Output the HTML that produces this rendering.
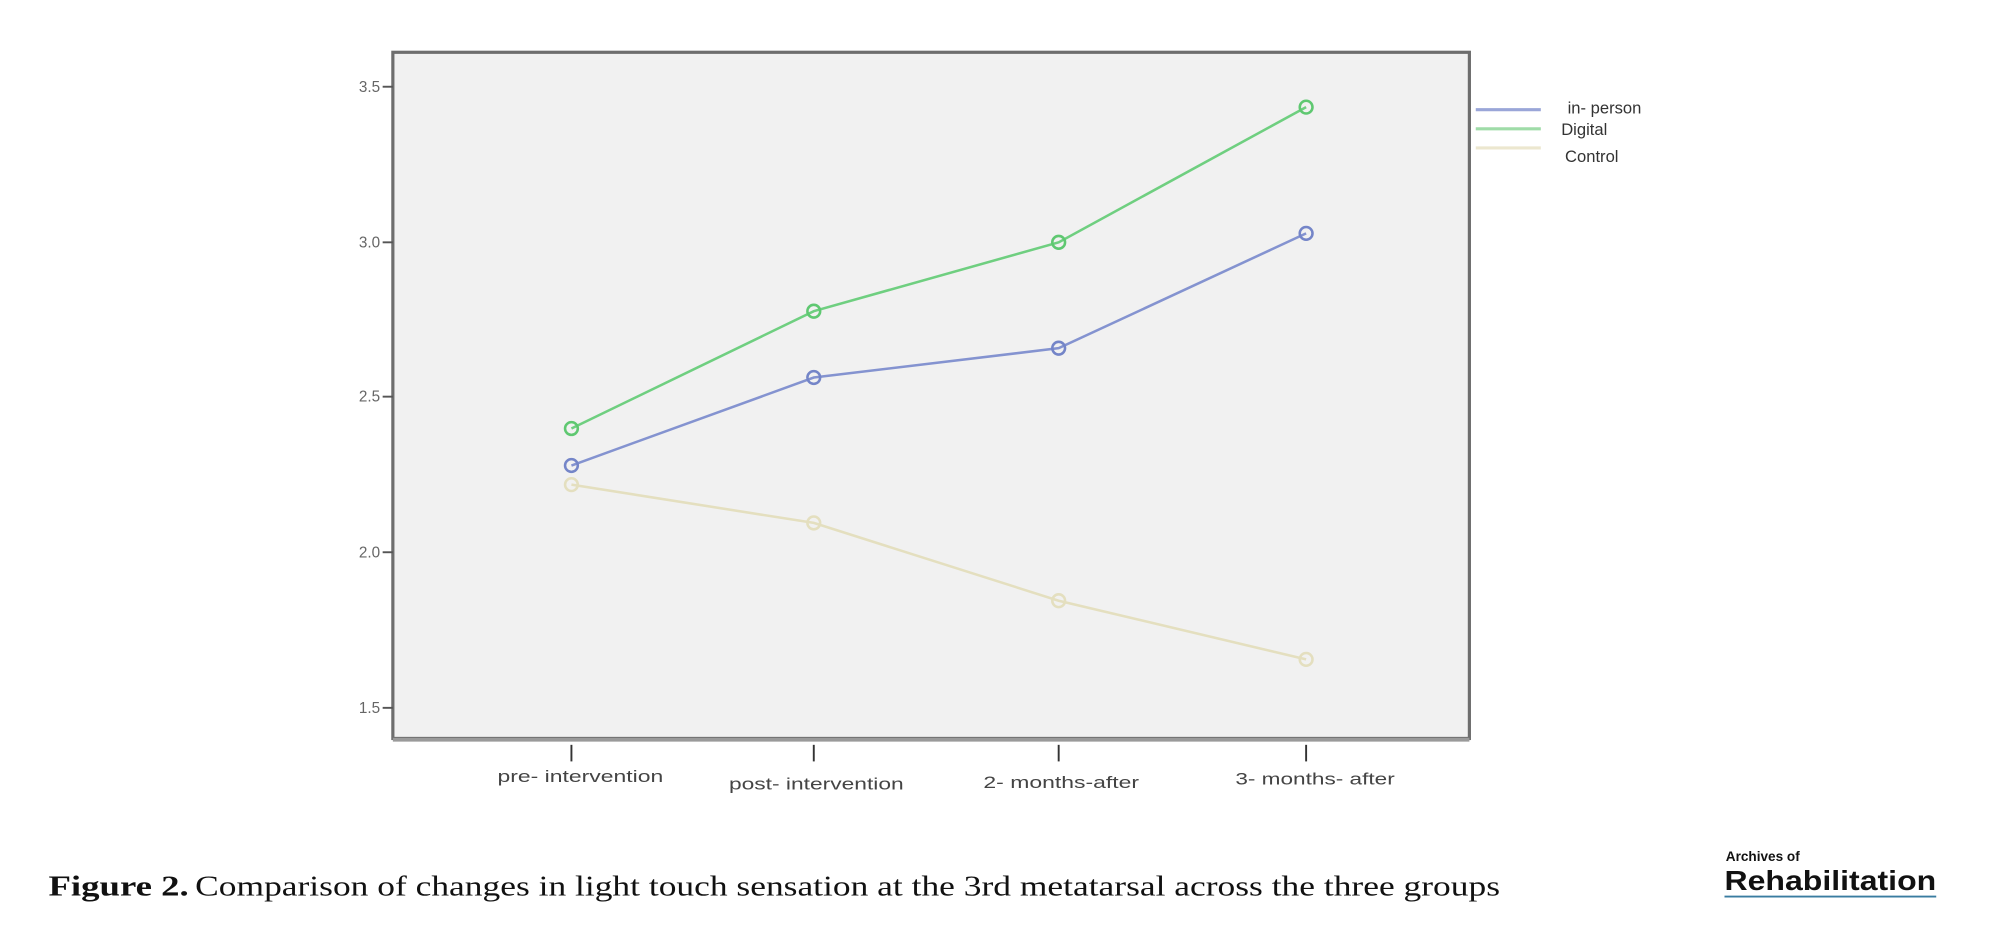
<!DOCTYPE html>
<html><head><meta charset="utf-8"><style>
html,body{margin:0;padding:0;background:#fff;}
svg{display:block;}
</style></head><body>
<svg width="2000" height="929" viewBox="0 0 1568 728.4" preserveAspectRatio="none" xmlns="http://www.w3.org/2000/svg">
<rect x="0" y="0" width="1568" height="729" fill="#fff"/>
<rect x="308" y="41" width="844" height="538" fill="#f1f1f1" stroke="#6e6e6e" stroke-width="2.5"/>
<line x1="308" y1="580" x2="1152" y2="580" stroke="#9a9a9a" stroke-width="3"/>
<g stroke="#555" stroke-width="1.5">
<line x1="300" y1="68" x2="308" y2="68"/>
<line x1="300" y1="190" x2="308" y2="190"/>
<line x1="300" y1="311" x2="308" y2="311"/>
<line x1="300" y1="433" x2="308" y2="433"/>
<line x1="300" y1="555" x2="308" y2="555"/>
</g>
<g font-family="Liberation Sans, sans-serif" font-size="12" fill="#666" text-anchor="end">
<text x="298" y="72">3.5</text>
<text x="298" y="194">3.0</text>
<text x="298" y="315">2.5</text>
<text x="298" y="437">2.0</text>
<text x="298" y="559">1.5</text>
</g>
<g stroke="#333" stroke-width="1.5">
<line x1="448" y1="584" x2="448" y2="597"/>
<line x1="638" y1="584" x2="638" y2="597"/>
<line x1="830" y1="584" x2="830" y2="597"/>
<line x1="1024" y1="584" x2="1024" y2="597"/>
</g>
<g font-family="Liberation Sans, sans-serif" font-size="13" fill="#444" text-anchor="middle">
<text x="455" y="613" textLength="130" lengthAdjust="spacingAndGlyphs">pre- intervention</text>
<text x="640" y="619" textLength="137" lengthAdjust="spacingAndGlyphs">post- intervention</text>
<text x="832" y="618" textLength="122" lengthAdjust="spacingAndGlyphs">2- months-after</text>
<text x="1031" y="615" textLength="125" lengthAdjust="spacingAndGlyphs">3- months- after</text>
</g>
<g fill="none" stroke-width="2">
<polyline points="448,380 638,410 830,471 1024,517" stroke="#e4dfbf"/>
<polyline points="448,365 638,296 830,273 1024,183" stroke="#8493d0"/>
<polyline points="448,336 638,244 830,190 1024,84" stroke="#6fcf80"/>
<g stroke="#e4dfbf"><circle cx="448" cy="380" r="5"/><circle cx="638" cy="410" r="5"/><circle cx="830" cy="471" r="5"/><circle cx="1024" cy="517" r="5"/></g>
<g stroke="#7485c8"><circle cx="448" cy="365" r="5"/><circle cx="638" cy="296" r="5"/><circle cx="830" cy="273" r="5"/><circle cx="1024" cy="183" r="5"/></g>
<g stroke="#5fc871"><circle cx="448" cy="336" r="5"/><circle cx="638" cy="244" r="5"/><circle cx="830" cy="190" r="5"/><circle cx="1024" cy="84" r="5"/></g>
</g>
<g stroke-width="2.5">
<line x1="1157" y1="86" x2="1208" y2="86" stroke="#9aa6d8"/>
<line x1="1157" y1="101" x2="1208" y2="101" stroke="#9fdca8"/>
<line x1="1157" y1="116" x2="1208" y2="116" stroke="#ece7cf"/>
</g>
<g font-family="Liberation Sans, sans-serif" font-size="13" fill="#333">
<text x="1229" y="89">in- person</text>
<text x="1224" y="106">Digital</text>
<text x="1227" y="127">Control</text>
</g>
<text x="38" y="702" font-family="Liberation Serif, serif" font-size="22" fill="#111" font-weight="bold" textLength="110" lengthAdjust="spacingAndGlyphs">Figure 2.</text>
<text x="153" y="702" font-family="Liberation Serif, serif" font-size="22" fill="#111" textLength="1023" lengthAdjust="spacingAndGlyphs">Comparison of changes in light touch sensation at the 3rd metatarsal across the three groups</text>
<text x="1353" y="675" font-family="Liberation Sans, sans-serif" font-size="11" font-weight="bold" fill="#111" textLength="58" lengthAdjust="spacingAndGlyphs">Archives of</text>
<text x="1352" y="698" font-family="Liberation Sans, sans-serif" font-size="22" font-weight="bold" fill="#111" textLength="166" lengthAdjust="spacingAndGlyphs">Rehabilitation</text>
<line x1="1352" y1="703" x2="1518" y2="703" stroke="#3a7ca0" stroke-width="1.5"/>
</svg>
</body></html>
